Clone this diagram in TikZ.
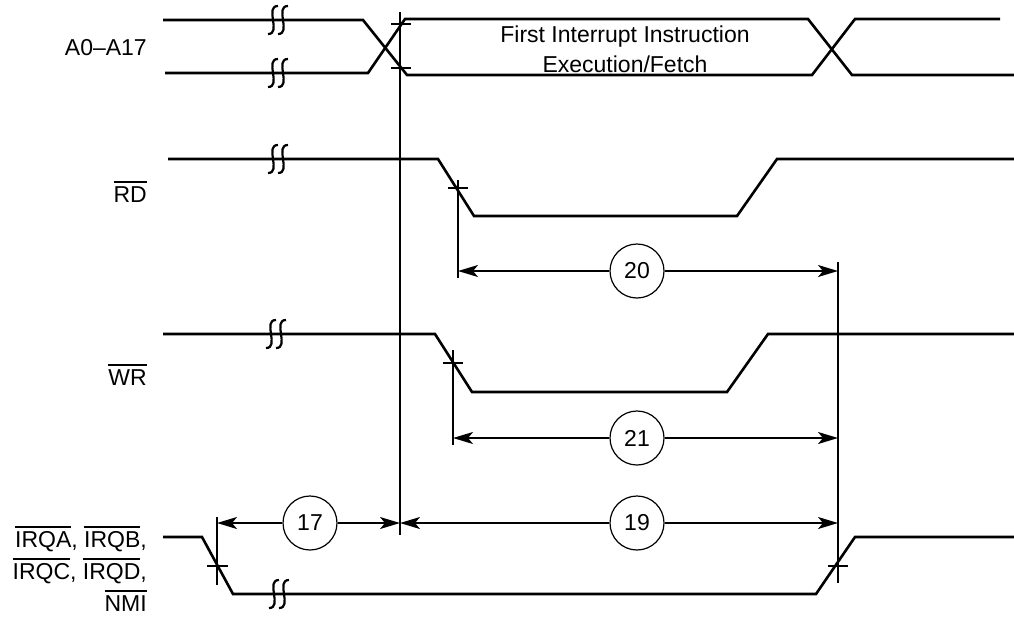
\documentclass[tikz,border=0pt]{standalone}
\usepackage{fontspec}
\setmainfont{Liberation Sans}
\usetikzlibrary{arrows.meta}

% active-low signal name (bar over the letters only)
\newcommand{\nsig}[1]{\leavevmode\vbox{\hrule height 1.7pt\kern 3.2pt\hbox{#1}}}
% break mark across a signal line
\newcommand{\sigbreak}[2]{%
  \foreach \d in {0,10}
    \draw[line width=2.2pt] (#1+\d+5,#2-14) .. controls (#1+\d-9,#2-14) and (#1+\d+9,#2+14) .. (#1+\d-5,#2+14);}

\begin{document}
\begin{tikzpicture}[x=1pt,y=-1pt,>={Stealth[length=20pt,width=12pt,inset=5pt]},
    sig/.style={line width=2.6pt},
    dim/.style={line width=1.7pt},
    lbl/.style={font=\fontsize{23}{30}\selectfont,inner sep=0pt},
    num/.style={draw,circle,line width=1.2pt,minimum size=54pt,inner sep=0pt,
                font=\fontsize{23}{30}\selectfont,fill=white}]
    \useasboundingbox (0,0) rectangle (1014,619);

    % signal names
    \node[lbl,anchor=base east] (addr) at (147,55) {A0--A17};
    \node[lbl,anchor=base east] (rd) at (147,202) {\nsig{RD}};
    \node[lbl,anchor=base east] (wr) at (147,385) {\nsig{WR}};
    \node[lbl,anchor=base east,align=right,font=\fontsize{23}{32}\selectfont] (irq) at (147,611)
        {\nsig{IRQA}, \nsig{IRQB},\\\nsig{IRQC}, \nsig{IRQD},\\\nsig{NMI}};

    % address bus
    \draw[sig] (163,20) -- (363,20) -- (407,75) -- (812,75) -- (855,19) -- (1000,19);
    \draw[sig] (165,73) -- (368,73) -- (405,19) -- (808,19) -- (852,75) -- (1014,75);
    \node[lbl,anchor=base,align=center] (fetch) at (625,72)
        {First Interrupt Instruction\\Execution/Fetch};

    % strobes and interrupt lines
    \draw[sig] (168,159) -- (438,159) -- (474,216) -- (737,216) -- (777,159) -- (1014,159);
    \draw[sig] (163,334) -- (435,334) -- (472,392) -- (727,392) -- (768,334) -- (1014,334);
    \draw[sig] (163,537) -- (202,537) -- (233,594) -- (816,594) -- (855,537) -- (1014,537);

    \sigbreak{273}{20}
    \sigbreak{273}{73}
    \sigbreak{273}{159}
    \sigbreak{271}{334}
    \sigbreak{274}{594}

    % reference lines and crossing marks
    \draw[dim] (400,12) -- (400,535);
    \draw[dim] (391,24) -- (411,24);
    \draw[dim] (391,68) -- (411,68);
    \draw[dim] (458,180) -- (458,278)  (448,188) -- (468,188);
    \draw[dim] (453,350) -- (453,445)  (443,363) -- (463,363);
    \draw[dim] (217,517) -- (217,585)  (207,566) -- (228,566);
    \draw[dim] (838,262) -- (838,583)  (828,566) -- (848,566);

    % timing numbers
    \coordinate (rdL) at (458,271);
    \coordinate (rdR) at (838,271);
    \coordinate (wrL) at (453,438);
    \coordinate (wrR) at (838,438);
    \coordinate (irqL) at (217,523);
    \coordinate (refM) at (400,523);
    \coordinate (irqR) at (838,523);

    \node[num] (t20) at (637,271) {20};
    \node[num] (t21) at (637,438) {21};
    \node[num] (t17) at (310,523) {17};
    \node[num] (t19) at (637,523) {19};

    \draw[dim,->] (t20) -- (rdL);
    \draw[dim,->] (t20) -- (rdR);
    \draw[dim,->] (t21) -- (wrL);
    \draw[dim,->] (t21) -- (wrR);
    \draw[dim,->] (t17) -- (irqL);
    \draw[dim,->] (t17) -- (refM);
    \draw[dim,->] (t19) -- (refM);
    \draw[dim,->] (t19) -- (irqR);
\end{tikzpicture}
\end{document}
